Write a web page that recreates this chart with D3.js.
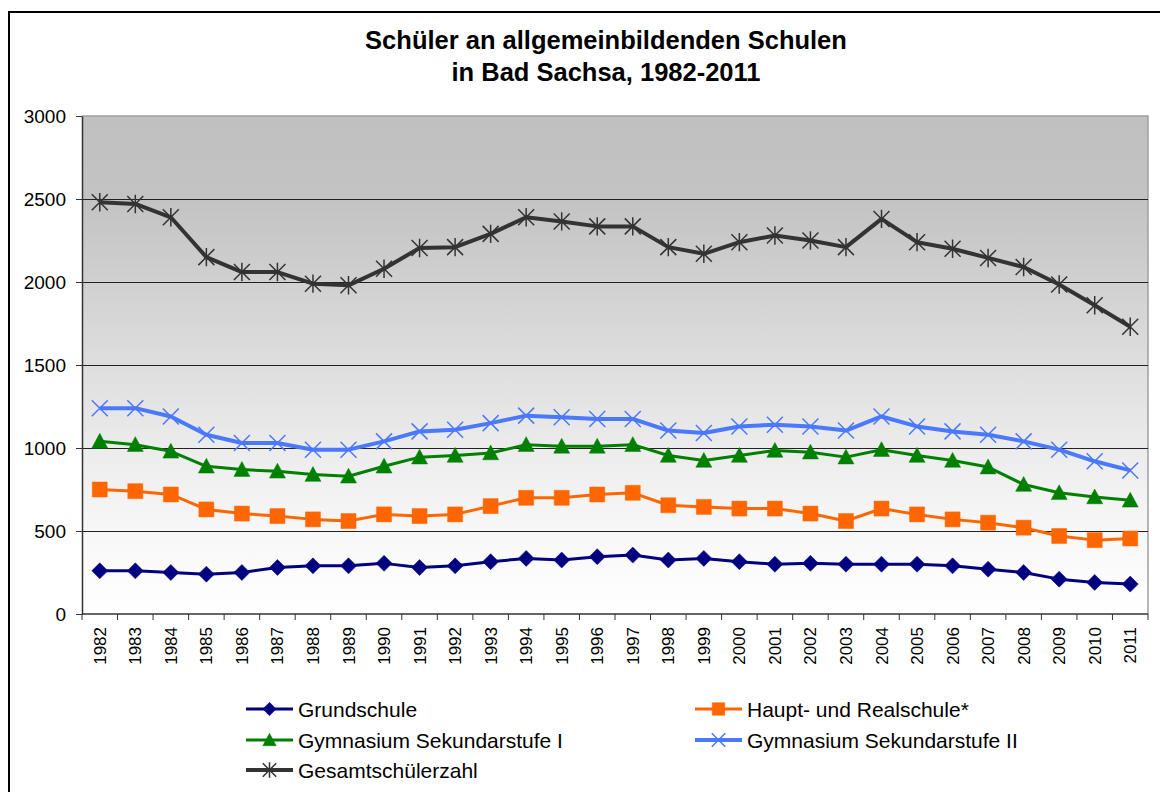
<!DOCTYPE html>
<html>
<head>
<meta charset="utf-8">
<script src="https://cdn.jsdelivr.net/npm/d3@7"></script>
<style>
  body { margin: 0; background: #fff; }
  svg { display: block; font-family: "Liberation Sans", Arial, sans-serif; }
</style>
</head>
<body>
<svg width="1160" height="792"></svg>
<script>
// years on the category axis
var years = d3.range(1982, 2012).map(String);

var grundschule = [260, 260, 250, 240, 250, 280, 290, 290, 305, 280,
                   290, 315, 335, 325, 345, 355, 325, 335, 315, 300,
                   305, 300, 300, 300, 290, 270, 250, 210, 190, 180];
var hauptReal   = [750, 740, 720, 630, 605, 590, 570, 560, 600, 590,
                   600, 650, 700, 700, 720, 730, 655, 645, 635, 635,
                   605, 560, 635, 600, 570, 550, 520, 470, 445, 455];
var gymSek1     = [1040, 1020, 980, 890, 870, 860, 840, 830, 890, 945,
                   955, 970, 1020, 1010, 1010, 1020, 955, 925, 955, 985,
                   975, 945, 990, 955, 925, 885, 780, 730, 705, 685];
var gymSek2     = [1240, 1240, 1190, 1080, 1030, 1030, 990, 990, 1040, 1100,
                   1110, 1150, 1195, 1185, 1175, 1175, 1105, 1090, 1130, 1140,
                   1130, 1105, 1190, 1130, 1100, 1080, 1040, 990, 920, 865];
var gesamt      = [2480, 2470, 2390, 2150, 2060, 2060, 1990, 1980, 2080, 2205,
                   2210, 2290, 2390, 2365, 2335, 2335, 2210, 2170, 2240, 2280,
                   2250, 2210, 2380, 2240, 2200, 2145, 2090, 1985, 1860, 1730];

var yTicks = [0, 500, 1000, 1500, 2000, 2500, 3000];

// custom marker shapes (Excel style)
var symDiamond = { draw: function(c, s) { var r = Math.sqrt(s) / 2;
  c.moveTo(0, -r); c.lineTo(r, 0); c.lineTo(0, r); c.lineTo(-r, 0); c.closePath(); } };
var symSquare = { draw: function(c, s) { var r = Math.sqrt(s) / 2;
  c.rect(-r, -r, 2 * r, 2 * r); } };
var symTriangle = { draw: function(c, s) { var r = Math.sqrt(s) / 2;
  c.moveTo(0, -r); c.lineTo(r, r * 0.85); c.lineTo(-r, r * 0.85); c.closePath(); } };
var symX = { draw: function(c, s) { var r = Math.sqrt(s) / 2;
  c.moveTo(-r, -r); c.lineTo(r, r); c.moveTo(r, -r); c.lineTo(-r, r); } };
var symStar = { draw: function(c, s) { var r = Math.sqrt(s) / 2;
  c.moveTo(-r, -r); c.lineTo(r, r); c.moveTo(r, -r); c.lineTo(-r, r);
  c.moveTo(0, -r * 1.15); c.lineTo(0, r * 1.15); } };

var series = [
  { name: "Grundschule", values: grundschule, color: "#000080", width: 3, sym: symDiamond, size: 256, filled: true },
  { name: "Haupt- und Realschule*", values: hauptReal, color: "#ff6600", width: 3, sym: symSquare, size: 225, filled: true },
  { name: "Gymnasium Sekundarstufe I", values: gymSek1, color: "#008000", width: 3, sym: symTriangle, size: 256, filled: true },
  { name: "Gymnasium Sekundarstufe II", values: gymSek2, color: "#4a78ff", width: 4, sym: symX, size: 256, filled: false },
  { name: "Gesamtschülerzahl", values: gesamt, color: "#333333", width: 4, sym: symStar, size: 256, filled: false }
];

var svg = d3.select("svg");

// outer frame
svg.append("rect")
    .attr("x", 9).attr("y", 12)
    .attr("width", 1200).attr("height", 820)
    .attr("fill", "none")
    .attr("stroke", "#000")
    .attr("stroke-width", 2);

// title
var title = svg.append("text")
    .attr("text-anchor", "middle")
    .attr("font-weight", "bold")
    .attr("font-size", 25.5)
    .attr("fill", "#000");
title.append("tspan").attr("x", 606).attr("y", 49).text("Schüler an allgemeinbildenden Schulen");
title.append("tspan").attr("x", 606).attr("y", 81).text("in Bad Sachsa, 1982-2011");

var plot = { left: 82, right: 1148, top: 116, bottom: 614 };

var x = d3.scaleBand()
    .domain(years)
    .range([plot.left, plot.right])
    .padding(0);

var y = d3.scaleLinear()
    .domain([0, 3000])
    .range([plot.bottom, plot.top]);

// gradient background
var grad = svg.append("defs").append("linearGradient")
    .attr("id", "bg")
    .attr("x1", 0).attr("y1", 0).attr("x2", 0).attr("y2", 1);
[[0, "#c0c0c0"], [0.17, "#c3c3c3"], [0.33, "#d0d0d0"], [0.5, "#dedede"],
 [0.67, "#ececec"], [0.83, "#f7f7f7"], [1, "#ffffff"]].forEach(function(s) {
  grad.append("stop").attr("offset", s[0]).attr("stop-color", s[1]);
});

svg.append("rect")
    .attr("x", plot.left).attr("y", plot.top)
    .attr("width", plot.right - plot.left)
    .attr("height", plot.bottom - plot.top)
    .attr("fill", "url(#bg)");

// plot border top/right
svg.append("path")
    .attr("d", "M" + plot.left + "," + plot.top + "H" + plot.right + "V" + plot.bottom)
    .attr("fill", "none")
    .attr("stroke", "#a0a0a0")
    .attr("stroke-width", 1.5);

// grid lines
svg.append("g")
  .selectAll("line")
  .data(yTicks.filter(function(d) { return d > 0 && d < 3000; }))
  .enter().append("line")
    .attr("x1", plot.left).attr("x2", plot.right)
    .attr("y1", function(d) { return Math.round(y(d)) + 0.5; })
    .attr("y2", function(d) { return Math.round(y(d)) + 0.5; })
    .attr("stroke", "#222")
    .attr("stroke-width", 1);

// y axis
var yAxis = svg.append("g")
    .attr("transform", "translate(" + plot.left + ",0)")
    .call(d3.axisLeft(y).tickValues(yTicks).tickFormat(d3.format("d"))
      .tickSize(6).tickPadding(10).tickSizeOuter(0));
yAxis.attr("font-family", null).attr("font-size", null);
yAxis.select(".domain").attr("stroke", "#333").attr("stroke-width", 1.5);
yAxis.selectAll(".tick line").attr("stroke", "#333");
yAxis.selectAll("text").attr("font-size", 19).attr("fill", "#000");

// x axis
var xAxis = svg.append("g")
    .attr("transform", "translate(0," + plot.bottom + ")");
xAxis.append("line")
    .attr("x1", plot.left).attr("x2", plot.right)
    .attr("stroke", "#333").attr("stroke-width", 1.5);
xAxis.selectAll(".tk")
  .data(years.concat(["end"]))
  .enter().append("line")
    .attr("class", "tk")
    .attr("x1", function(d) { return d === "end" ? plot.right : x(d); })
    .attr("x2", function(d) { return d === "end" ? plot.right : x(d); })
    .attr("y1", 0).attr("y2", 6)
    .attr("stroke", "#333");
xAxis.selectAll(".lbl")
  .data(years)
  .enter().append("text")
    .attr("class", "lbl")
    .attr("transform", function(d) {
      return "translate(" + (x(d) + x.bandwidth() / 2 + 6) + ",13) rotate(-90)";
    })
    .attr("text-anchor", "end")
    .attr("font-size", 17)
    .attr("fill", "#000")
    .text(function(d) { return d; });

// lines and markers
var line = d3.line()
    .x(function(d, i) { return x(years[i]) + x.bandwidth() / 2; })
    .y(function(d) { return y(d); });

series.forEach(function(s) {
  var g = svg.append("g");
  g.append("path")
      .datum(s.values)
      .attr("d", line)
      .attr("fill", "none")
      .attr("stroke", s.color)
      .attr("stroke-width", s.width)
      .attr("stroke-linejoin", "round");
  g.selectAll("path.m")
    .data(s.values)
    .enter().append("path")
      .attr("class", "m")
      .attr("transform", function(d, i) {
        return "translate(" + (x(years[i]) + x.bandwidth() / 2) + "," + y(d) + ")";
      })
      .attr("d", d3.symbol().type(s.sym).size(s.size))
      .attr("fill", s.filled ? s.color : "none")
      .attr("stroke", s.color)
      .attr("stroke-width", s.filled ? 0.5 : 1.5);
});

// legend
var legendPos = [
  { x: 246, y: 709 }, { x: 695, y: 709 },
  { x: 246, y: 740 }, { x: 695, y: 740 },
  { x: 246, y: 770 }
];

var legend = svg.append("g")
  .selectAll("g")
  .data(series)
  .enter().append("g")
    .attr("transform", function(d, i) {
      return "translate(" + legendPos[i].x + "," + legendPos[i].y + ")";
    });

legend.append("line")
    .attr("x1", 0).attr("x2", 47)
    .attr("stroke", function(d) { return d.color; })
    .attr("stroke-width", function(d) { return d.width; });
legend.append("path")
    .attr("transform", "translate(23.5,0)")
    .attr("d", function(d) { return d3.symbol().type(d.sym).size(d.size * 0.7)(); })
    .attr("fill", function(d) { return d.filled ? d.color : "none"; })
    .attr("stroke", function(d) { return d.color; })
    .attr("stroke-width", function(d) { return d.filled ? 0.5 : 1.5; });
legend.append("text")
    .attr("x", 52)
    .attr("dy", "0.36em")
    .attr("font-size", 21)
    .attr("fill", "#000")
    .text(function(d) { return d.name; });
</script>
</body>
</html>
